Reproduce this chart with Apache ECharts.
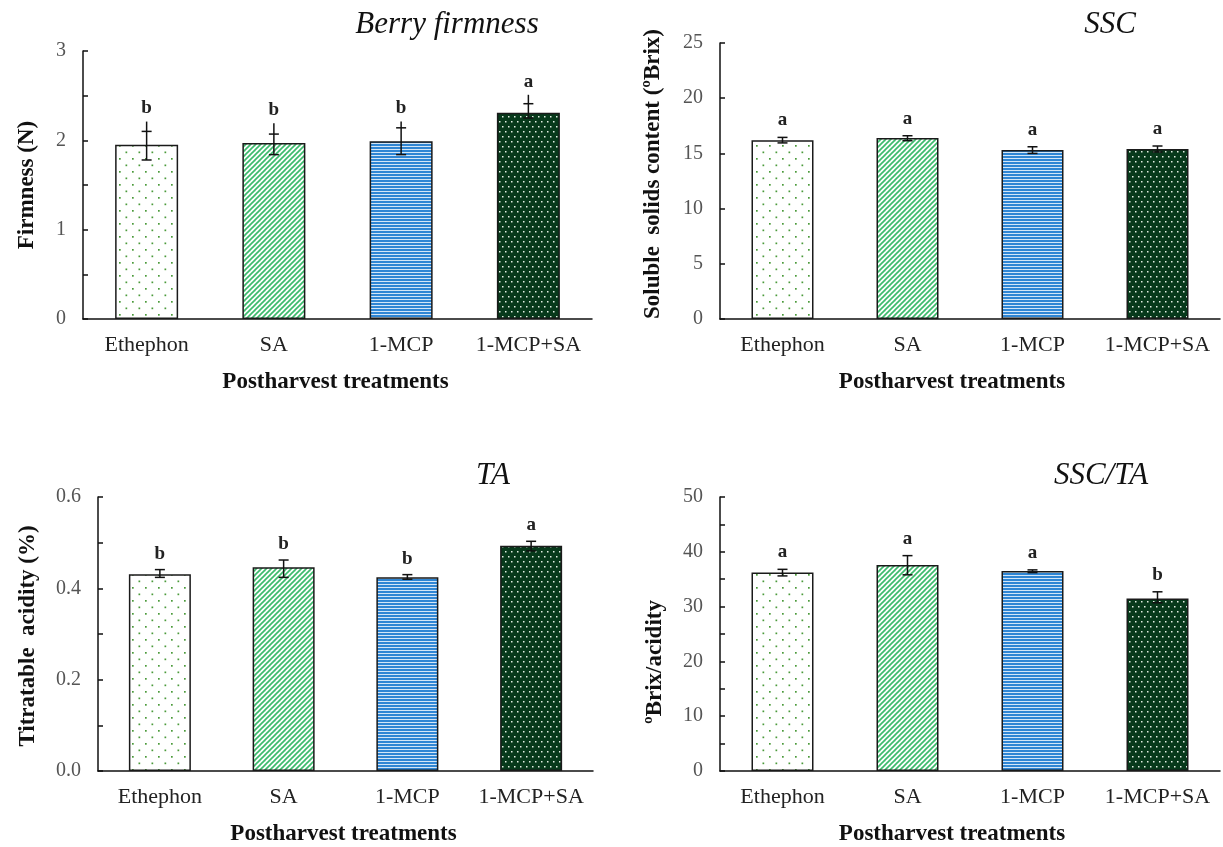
<!DOCTYPE html>
<html>
<head>
<meta charset="utf-8">
<script src="https://cdn.jsdelivr.net/npm/echarts@6/dist/echarts.min.js"></script>
<style>
html,body{margin:0;padding:0;background:#fff;}
#main{width:1223px;height:847px;}
</style>
</head>
<body>
<div id="main"></div>
<script>
// ---------- DATA ----------
const categories = ['Ethephon', 'SA', '1-MCP', '1-MCP+SA'];

const firmness = [1.95, 1.97, 1.99, 2.31];
const firmnessLow = [1.78, 1.84, 1.84, 2.25];
const firmnessCap = [2.10, 2.07, 2.14, 2.41];
const firmnessTop = [2.21, 2.19, 2.21, 2.51];
const firmnessLetters = ['b', 'b', 'b', 'a'];

const ssc = [16.2, 16.4, 15.3, 15.4];
const sscLow = [15.95, 16.15, 15.0, 15.13];
const sscHigh = [16.45, 16.6, 15.6, 15.67];
const sscLetters = ['a', 'a', 'a', 'a'];

const ta = [0.431, 0.446, 0.424, 0.493];
const taLow = [0.424, 0.424, 0.420, 0.482];
const taHigh = [0.441, 0.462, 0.430, 0.503];
const taLetters = ['b', 'b', 'b', 'a'];

const ratio = [36.2, 37.6, 36.5, 31.5];
const ratioLow = [35.6, 35.8, 36.2, 30.7];
const ratioHigh = [36.8, 39.3, 36.7, 32.7];
const ratioLetters = ['a', 'a', 'a', 'b'];

const titles = ['Berry firmness', 'SSC', 'TA', 'SSC/TA'];
const yNames = ['Firmness (N)', 'Soluble  solids content (\u00BABrix)', 'Titratable  acidity (%)', '\u00BABrix/acidity'];
const xName = 'Postharvest treatments';

// ---------- PATTERNS ----------
function pat(w, h, draw) {
  const c = document.createElement('canvas');
  c.width = w; c.height = h;
  const g = c.getContext('2d');
  draw(g, w, h);
  return { image: c, repeat: 'repeat' };
}
const patEthephon = pat(13, 13, (g, w, h) => {
  g.fillStyle = '#ffffff'; g.fillRect(0, 0, w, h);
  g.fillStyle = '#4a9a3a';
  g.fillRect(2, 2, 1.7, 1.7);
  g.fillRect(8.5, 8.5, 1.7, 1.7);
});
const patSA = pat(5, 5, (g, w, h) => {
  g.fillStyle = '#ffffff'; g.fillRect(0, 0, w, h);
  g.strokeStyle = '#3cbb6c'; g.lineWidth = 1.7;
  for (let k = -1; k <= 1; k++) {
    g.beginPath();
    g.moveTo(k * w - 1, h + 1);
    g.lineTo(k * w + w + 1, -1);
    g.stroke();
  }
});
const patMCP = pat(4, 3, (g, w, h) => {
  g.fillStyle = '#d3e6f7'; g.fillRect(0, 0, w, h);
  g.fillStyle = '#2f86d4'; g.fillRect(0, 0, w, 2);
});
const patMCPSA = pat(6, 10, (g, w, h) => {
  g.fillStyle = '#07391b'; g.fillRect(0, 0, w, h);
  g.fillStyle = '#e4efe4';
  g.fillRect(1, 1, 1.5, 1.5);
  g.fillRect(4, 6, 1.5, 1.5);
});
const patterns = [patEthephon, patSA, patMCP, patMCPSA];

// ---------- LAYOUT ----------
const FONT = "'Liberation Serif', 'Times New Roman', serif";
const grids = [
  { left: 83, top: 51, width: 509, height: 268 },
  { left: 720, top: 43, width: 500, height: 276 },
  { left: 98, top: 497, width: 495, height: 276 },
  { left: 720, top: 497, width: 500, height: 275 }
];
const yCfg = [
  { max: 3, interval: 1, minor: true, fmt: v => String(v), gap: 44, pad: [0, 0, 0, 0] },
  { max: 25, interval: 5, minor: false, fmt: v => String(v), gap: 55, pad: [0, 0, 0, 14] },
  { max: 0.6, interval: 0.2, minor: true, fmt: v => v.toFixed(1), gap: 58, pad: [0, 4, 0, 0] },
  { max: 50, interval: 10, minor: true, fmt: v => String(v), gap: 53, pad: [0, 56, 0, 0] }
];
const xPad = [[0, 4, 0, 0], [0, 36, 0, 0], [0, 4, 0, 0], [0, 36, 0, 0]];
const barW = [63, 62, 62, 62];
const letterOff = [13, 17, 16, 17];

const panels = [
  { values: firmness, low: firmnessLow, cap: firmnessCap, top: firmnessTop, letters: firmnessLetters },
  { values: ssc, low: sscLow, cap: sscHigh, top: sscHigh, letters: sscLetters },
  { values: ta, low: taLow, cap: taHigh, top: taHigh, letters: taLetters },
  { values: ratio, low: ratioLow, cap: ratioHigh, top: ratioHigh, letters: ratioLetters }
];

function errRender(letters, off) {
  return function (params, api) {
    const i = api.value(0);
    const x = api.coord([i, 0])[0];
    const yl = api.coord([i, api.value(1)])[1];
    const yc = api.coord([i, api.value(2)])[1];
    const yt = api.coord([i, api.value(3)])[1];
    const st = { stroke: '#111', lineWidth: 1.5 };
    return {
      type: 'group',
      children: [
        { type: 'line', shape: { x1: x, y1: yl, x2: x, y2: yt }, style: st },
        { type: 'line', shape: { x1: x - 5, y1: yl, x2: x + 5, y2: yl }, style: st },
        { type: 'line', shape: { x1: x - 5, y1: yc, x2: x + 5, y2: yc }, style: st },
        { type: 'text', x: x, y: yt - off,
          style: { text: letters[params.dataIndex], font: 'bold 19px ' + FONT, fill: '#222', align: 'center', verticalAlign: 'middle' } }
      ]
    };
  };
}

const xAxes = [], yAxes = [], series = [];
panels.forEach((p, k) => {
  xAxes.push({
    type: 'category', gridIndex: k, data: categories,
    axisLine: { lineStyle: { color: '#111', width: 1.5 } },
    axisTick: { show: false },
    axisLabel: { color: '#222', fontFamily: FONT, fontSize: 22, margin: 15, interval: 0 },
    name: xName, nameLocation: 'middle', nameGap: 52,
    nameTextStyle: { color: '#111', fontFamily: FONT, fontSize: 23, fontWeight: 'bold', padding: xPad[k] }
  });
  const c = yCfg[k];
  yAxes.push({
    type: 'value', gridIndex: k, min: 0, max: c.max, interval: c.interval,
    axisLine: { show: true, lineStyle: { color: '#111', width: 1.5 } },
    axisTick: { show: true, inside: true, length: 5, lineStyle: { color: '#111', width: 1.5 } },
    minorTick: { show: c.minor, splitNumber: 2, length: 5, lineStyle: { color: '#111', width: 1.5 } },
    splitLine: { show: false },
    axisLabel: { color: '#555', fontFamily: FONT, fontSize: 20, margin: 17, formatter: c.fmt },
    name: yNames[k], nameLocation: 'middle', nameGap: c.gap, nameRotate: 90,
    nameTextStyle: { color: '#111', fontFamily: FONT, fontSize: 23, fontWeight: 'bold', padding: c.pad }
  });
  series.push({
    type: 'bar', xAxisIndex: k, yAxisIndex: k, barWidth: barW[k],
    data: p.values.map((v, i) => ({ value: v, itemStyle: { color: patterns[i] } })),
    itemStyle: { borderColor: '#1a1a1a', borderWidth: 1.5 },
    emphasis: { disabled: true }, silent: true
  });
  series.push({
    type: 'custom', xAxisIndex: k, yAxisIndex: k, z: 10, clip: false,
    renderItem: errRender(p.letters, letterOff[k]),
    encode: { x: 0, y: [1, 2, 3] },
    data: p.low.map((l, i) => [i, l, p.cap[i], p.top[i]]),
    silent: true
  });
});

const titlePos = [[447, 25], [1110, 25], [493, 476], [1101, 476]];
const graphics = titles.map((t, k) => ({
  type: 'text', x: titlePos[k][0], y: titlePos[k][1],
  style: { text: t, font: 'italic 31px ' + FONT, fill: '#111', align: 'center', verticalAlign: 'middle' }
}));

const chart = echarts.init(document.getElementById('main'), null, { renderer: 'canvas' });
chart.setOption({
  backgroundColor: '#ffffff',
  animation: false,
  grid: grids,
  xAxis: xAxes,
  yAxis: yAxes,
  series: series,
  graphic: graphics
});
</script>
</body>
</html>
